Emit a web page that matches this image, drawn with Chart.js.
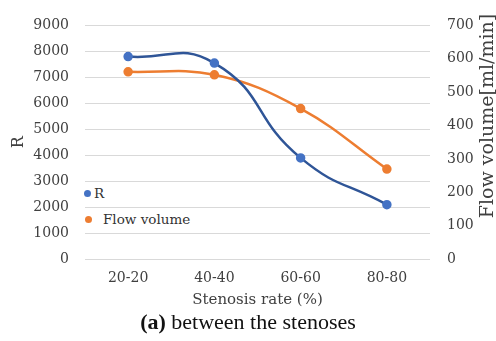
<!DOCTYPE html>
<html><head><meta charset="utf-8">
<script src="https://cdn.jsdelivr.net/npm/chart.js@4/dist/chart.umd.min.js"></script>
<style>
html,body{margin:0;padding:0;background:#fff;}
#wrap{position:relative;width:496px;height:341px;font-family:"DejaVu Serif",serif;overflow:hidden;}
#c{position:absolute;left:0;top:0;}
.leg{position:absolute;background:#fff;font-size:13.5px;color:#333;line-height:16px;white-space:nowrap;font-family:"DejaVu Serif",serif;}
.dot{display:inline-block;width:7px;height:7px;border-radius:50%;vertical-align:middle;margin-right:3px;position:relative;top:-1px;}
#cap{position:absolute;left:0;width:496px;top:310px;text-align:center;font-size:22px;color:#111;font-family:"Liberation Serif",serif;line-height:24px;}
#rt{position:absolute;left:366px;top:104px;width:240px;height:24px;line-height:24px;text-align:center;font-size:19px;color:#404040;transform:rotate(-90deg);transform-origin:50% 50%;white-space:nowrap;}
</style></head><body>
<div id="wrap">
<canvas id="c" width="496" height="341"></canvas>
<div class="leg" style="left:84px;top:185px;padding:0 4px 0 0"><span class="dot" style="background:#4472C4"></span>R</div>
<div class="leg" style="left:84px;top:211px;padding:0 8px 2px 1px"><span class="dot" style="background:#ED7D31;margin-right:11px"></span>Flow volume</div>
<div id="rt">Flow volume[ml/min]</div>
<div id="cap"><b>(a)</b> between the stenoses</div>
</div>
<script>
const categories = ["20-20","40-40","60-60","80-80"];
const rValues = [7800, 7550, 3900, 2100];
const flowValues = [561, 552, 451, 270];
const leftTicks = [0,1000,2000,3000,4000,5000,6000,7000,8000,9000];
const rightTicks = [0,100,200,300,400,500,600,700];

const FAM = "'DejaVu Serif', serif";
Chart.defaults.font.family = FAM;
const tickFont = {family:FAM, size:14};
const fmt = v => String(v);
new Chart(document.getElementById('c'), {
  type:'line',
  data:{labels:categories, datasets:[
    {label:'R', data:rValues, yAxisID:'y', borderColor:'#2F5597', backgroundColor:'#4472C4',
     pointBackgroundColor:'#4472C4', pointBorderColor:'#4472C4', pointRadius:3.5, borderWidth:2.5, tension:0.5},
    {label:'Flow volume', data:flowValues, yAxisID:'y1', borderColor:'#ED7D31', backgroundColor:'#ED7D31',
     pointBackgroundColor:'#ED7D31', pointBorderColor:'#ED7D31', pointRadius:3.5, borderWidth:2.5, tension:0.4}
  ]},
  options:{
    responsive:false, animation:false,
    layout:{padding:{top:8,bottom:32,left:0,right:0}},
    plugins:{legend:{display:false}, tooltip:{enabled:false}},
    scales:{
      x:{offset:true, grid:{display:false}, border:{display:false},
         ticks:{font:tickFont, color:'#404040', padding:3},
         title:{display:true, text:'Stenosis rate (%)', font:{family:FAM, size:15}, color:'#404040', padding:{top:1,bottom:0}}},
      y:{position:'left', min:0, max:9000, afterBuildTicks:a=>{a.ticks=leftTicks.map(v=>({value:v}));},
         grid:{color:'#d9d9d9', drawTicks:false}, border:{display:false},
         ticks:{font:tickFont, color:'#404040', padding:16, callback:fmt},
         title:{display:true, text:'R', font:{family:FAM, size:16}, color:'#404040', padding:{top:9,bottom:0}},
         afterFit:s=>{s.width=85;}},
      y1:{position:'right', min:0, max:700, afterBuildTicks:a=>{a.ticks=rightTicks.map(v=>({value:v}));},
         grid:{display:false, drawTicks:false}, border:{display:false},
         ticks:{font:tickFont, color:'#404040', padding:17, callback:fmt},
         afterFit:s=>{s.width=66;}}
    }
  }
});
</script>
</body></html>
